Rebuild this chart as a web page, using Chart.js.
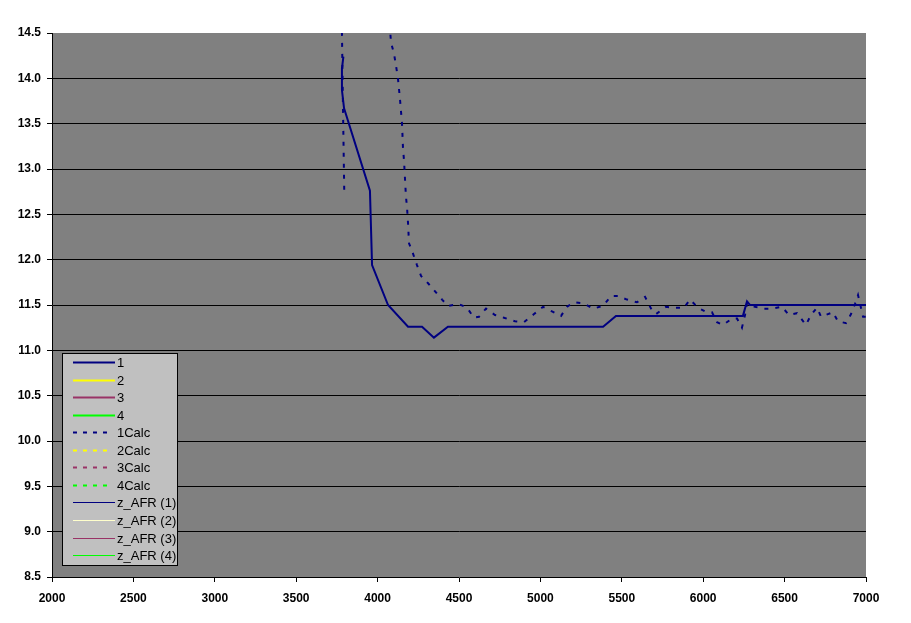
<!DOCTYPE html>
<html>
<head>
<meta charset="utf-8">
<script src="https://cdn.jsdelivr.net/npm/chart.js@4.4.0/dist/chart.umd.min.js"></script>
<style>
  body { margin: 0; background: #fff; }
  #wrap { width: 911px; height: 623px; position: relative; }
</style>
</head>
<body>
<div id="wrap"><canvas id="afr-chart"></canvas></div>
<script>
// series 1 (measured AFR vs rpm)
const rpm1 = [3790, 3781, 3781, 3794, 3953, 3966, 4064, 4187, 4273, 4346, 4432, 5385, 5464, 6244, 6269, 6287, 7000];
const afr1 = [14.24, 14.11, 13.87, 13.67, 12.76, 11.94, 11.50, 11.26, 11.26, 11.14, 11.26, 11.26, 11.38, 11.38, 11.54, 11.50, 11.50];

// series 1Calc (goes off the top of the chart between the two dashed legs)
const rpmCalc1 = [3795, 3788, 3778, 4070,
  4082, 4101, 4113, 4125, 4131, 4138, 4144, 4150, 4156, 4162, 4168, 4174, 4181, 4187, 4193,
  4217, 4242, 4267, 4310, 4353, 4396, 4432, 4500, 4549, 4592, 4623, 4666, 4721, 4776, 4844,
  4899, 4961, 5016, 5071, 5127, 5163, 5206, 5262, 5323, 5385, 5434, 5477, 5532, 5593, 5643,
  5680, 5710, 5771, 5815, 5882, 5919, 5968, 6011, 6054, 6085, 6122, 6177, 6208, 6238, 6257,
  6269, 6318, 6367, 6422, 6484, 6527, 6576, 6631, 6662, 6699, 6724, 6797, 6828, 6877, 6908,
  6932, 6951, 6982, 7000];
const afrCalc1 = [12.77, 13.60, 14.90, 14.70,
  14.40, 14.27, 14.14, 14.00, 13.89, 13.76, 13.63, 13.50, 13.23, 13.10, 12.90, 12.70, 12.57, 12.40, 12.18,
  12.07, 11.94, 11.82, 11.74, 11.65, 11.56, 11.49, 11.51, 11.47, 11.36, 11.37, 11.46, 11.39, 11.36, 11.32,
  11.31, 11.40, 11.48, 11.43, 11.38, 11.48, 11.53, 11.52, 11.46, 11.49, 11.60, 11.60, 11.56, 11.53, 11.59,
  11.46, 11.40, 11.48, 11.47, 11.47, 11.56, 11.47, 11.43, 11.42, 11.31, 11.28, 11.35, 11.35, 11.25, 11.39,
  11.52, 11.48, 11.46, 11.46, 11.48, 11.39, 11.41, 11.28, 11.39, 11.47, 11.37, 11.42, 11.32, 11.30, 11.40,
  11.51, 11.61, 11.37, 11.37];

const seriesNames = ['1', '2', '3', '4', '1Calc', '2Calc', '3Calc', '4Calc',
  'z_AFR (1)', 'z_AFR (2)', 'z_AFR (3)', 'z_AFR (4)'];
const seriesColors = ['#000080', '#FFFF00', '#993366', '#00FF00', '#000080', '#FFFF00', '#993366', '#00FF00',
  '#000080', '#FFFFCC', '#993366', '#00FF00'];

const xTicks = [2000, 7000, 500];
const yTicks = [8.5, 14.5, 0.5];

function pts(xs, ys) {
  return xs.map((x, i) => ({ x: x, y: ys[i] }));
}

const seriesData = [pts(rpm1, afr1), [], [], [], pts(rpmCalc1, afrCalc1), [], [], [], [], [], [], []];

const datasets = seriesNames.map((name, i) => ({
  label: name,
  data: seriesData[i],
  borderColor: seriesColors[i],
  backgroundColor: seriesColors[i],
  borderWidth: i >= 8 ? 1 : 2,
  borderDash: (i >= 4 && i < 8) ? [4, 7] : [],
  showLine: true,
  pointRadius: 0,
  tension: 0,
  clip: 0,
  order: seriesNames.length - i
}));

// gray plot area
const plotBg = {
  id: 'plotBg',
  beforeDraw(chart) {
    const a = chart.chartArea, c = chart.ctx;
    c.save();
    c.fillStyle = '#808080';
    c.fillRect(a.left, a.top, a.right - a.left, a.bottom - a.top);
    c.restore();
  }
};

// legend box inside the plot, bottom left
const boxLegend = {
  id: 'boxLegend',
  afterDraw(chart) {
    const c = chart.ctx;
    const bx = 62.5, by = 353.5, bw = 115, bh = 212;
    c.save();
    c.fillStyle = '#C0C0C0';
    c.fillRect(bx, by, bw, bh);
    c.strokeStyle = '#000';
    c.lineWidth = 1;
    c.strokeRect(bx, by, bw, bh);
    c.font = '13px "Liberation Sans", Arial, sans-serif';
    c.textBaseline = 'middle';
    chart.data.datasets.forEach((ds, i) => {
      const y = Math.round(362 + i * 17.55) + 0.5;
      c.beginPath();
      c.strokeStyle = ds.borderColor;
      c.lineWidth = ds.borderWidth;
      c.setLineDash(ds.borderDash.length ? [4, 6] : []);
      c.moveTo(73, y);
      c.lineTo(ds.borderDash.length ? 113 : 115, y);
      c.stroke();
      c.setLineDash([]);
      c.fillStyle = '#000';
      c.fillText(ds.label, 117, y + 1);
    });
    c.restore();
  }
};

const afrCanvas = document.getElementById('afr-chart');

let afrChart = new Chart(afrCanvas, {
  type: 'scatter',
  data: { datasets: datasets },
  options: {
    responsive: true,
    maintainAspectRatio: false,
    animation: false,
    layout: { padding: { top: 33, right: 45, left: 0, bottom: 0 } },
    plugins: {
      legend: { display: false },
      tooltip: { enabled: false }
    },
    scales: {
      x: {
        type: 'linear',
        min: xTicks[0],
        max: xTicks[1],
        afterFit: s => { s.height = 46; },
        border: { display: true, color: '#000', width: 1 },
        grid: { drawOnChartArea: false, drawTicks: true, tickLength: 5, color: '#000' },
        ticks: {
          stepSize: xTicks[2],
          color: '#000',
          padding: 9,
          maxRotation: 0,
          font: { family: '"Liberation Sans", Arial', size: 12, weight: 'bold' },
          callback: v => String(v)
        }
      },
      y: {
        min: yTicks[0],
        max: yTicks[1],
        afterFit: s => { s.width = 52; },
        border: { display: true, color: '#000', width: 1 },
        grid: {
          color: ctx => (ctx.tick && (ctx.tick.value === 14.5 || ctx.tick.value === 8.5)) ? 'rgba(0,0,0,0)' : '#000',
          tickColor: '#000',
          tickLength: 5
        },
        ticks: {
          stepSize: yTicks[2],
          color: '#000',
          padding: 6,
          font: { family: '"Liberation Sans", Arial', size: 12, weight: 'bold' },
          callback: v => v.toFixed(1)
        }
      }
    }
  },
  plugins: [plotBg, boxLegend]
});
</script>
</body>
</html>
